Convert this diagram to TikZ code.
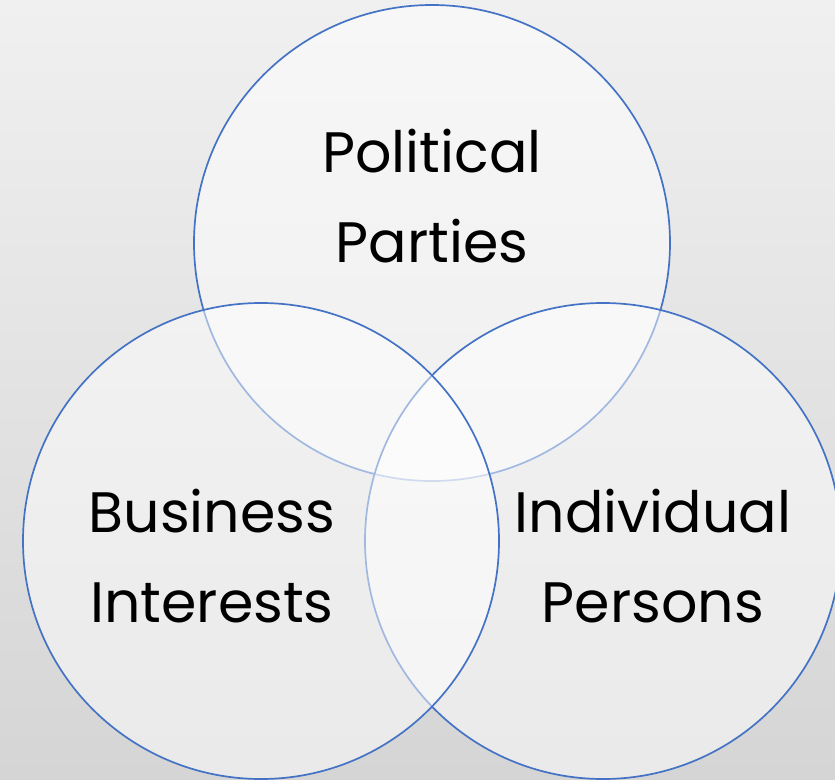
\documentclass[tikz,border=0pt]{standalone}
\usepackage{fontspec}
\setmainfont{Poppins}
\usepackage{xcolor}
\usetikzlibrary{positioning}

\definecolor{ringblue}{HTML}{4472C4}
\definecolor{bgtop}{HTML}{F0F0F0}
\definecolor{bgbottom}{HTML}{D5D5D5}

\begin{document}
\begin{tikzpicture}[x=1pt, y=-1pt,
        ring/.style={circle, draw=ringblue, line width=1.7pt, fill=white, fill opacity=0.5, minimum size=476pt, inner sep=0pt},
        setname/.style={align=center, anchor=base, font=\fontsize{57}{90}\selectfont, text=black}
    ]
        \useasboundingbox (0,0) rectangle (835,779);
        \shade[top color=bgtop, bottom color=bgbottom] (0,0) rectangle (835,779);
        % circles: top, right, left
        \node[ring] (parties) at (432,243) {};
        \node[ring] (persons) at (603,541) {};
        \node[ring] (business) at (261,541) {};
        % names
        \node[setname] (partiesname) at (432,262) {Political\\Parties};
        \node[setname] (businessname) at (212,622) {Business\\Interests};
        \node[setname] (personsname) at (653,622) {Individual\\Persons};
    \end{tikzpicture}
\end{document}
